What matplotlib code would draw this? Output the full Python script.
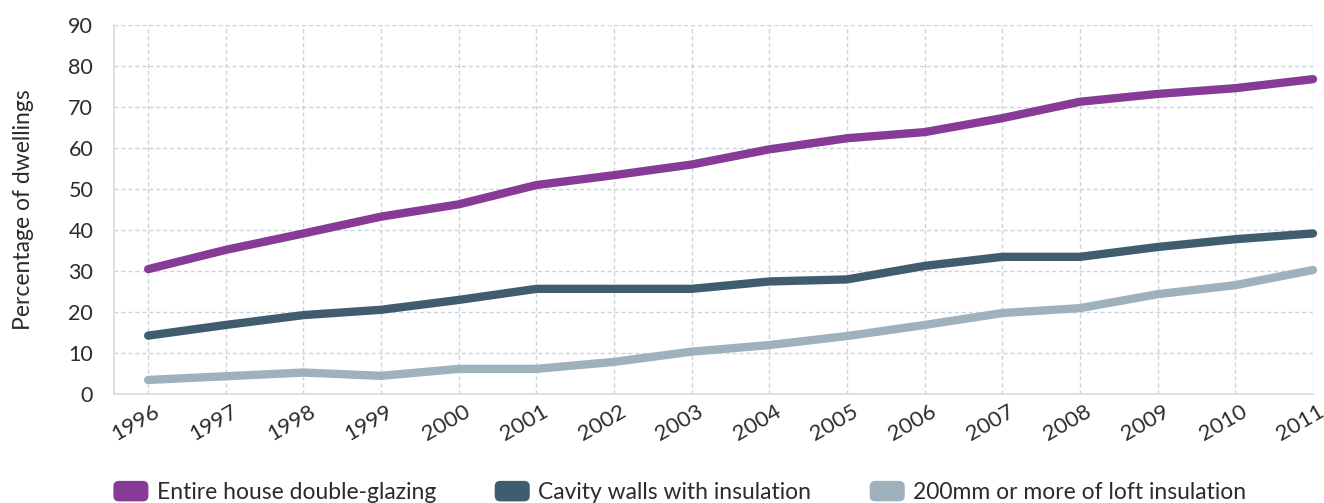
import matplotlib
matplotlib.use("Agg")
import matplotlib.pyplot as plt
from matplotlib.patches import FancyBboxPatch, Patch
from matplotlib.legend_handler import HandlerPatch
import matplotlib.transforms as mtransforms

years = list(range(1996, 2012))
double_glazing = [30.5, 35.2, 39.2, 43.3, 46.3, 51.0, 53.4, 56.0, 59.7, 62.4, 63.9, 67.3, 71.3, 73.2, 74.6, 76.8]
cavity_walls = [14.3, 16.9, 19.3, 20.6, 23.0, 25.7, 25.7, 25.7, 27.5, 28.0, 31.3, 33.5, 33.5, 35.9, 37.8, 39.2]
loft_insulation = [3.5, 4.4, 5.3, 4.5, 6.2, 6.2, 7.9, 10.4, 12.0, 14.2, 16.9, 19.8, 21.0, 24.4, 26.6, 30.3]

series_labels = ["Entire house double-glazing", "Cavity walls with insulation",
                 "200mm or more of loft insulation"]
colors = ["#873b97", "#3f5d6e", "#9fb1bc"]
y_ticks = list(range(0, 91, 10))

plt.rcParams["font.family"] = ["Lato", "DejaVu Sans"]
text_color = "#2b2b2b"
grid_color = "#c9d5dd"

fig = plt.figure(figsize=(13.24, 5.03), dpi=100)
ax = fig.add_axes([0.0861, 0.2161, 0.9056, 0.7342])

for vals, c, lab in zip([double_glazing, cavity_walls, loft_insulation], colors, series_labels):
    ax.plot(years, vals, color=c, lw=6.0, solid_capstyle="round",
            solid_joinstyle="round", clip_on=False, label=lab, zorder=3)

ax.set_xlim(1995.56, 2011)
ax.set_ylim(0, 90)
ax.set_xticks(years)
ax.set_yticks(y_ticks)
ax.grid(True, color=grid_color, linestyle=(0, (3, 2)), linewidth=1.0, zorder=0)
for s in ["top", "right"]:
    ax.spines[s].set_visible(False)
for s in ["left", "bottom"]:
    ax.spines[s].set_color("#d3dde4")
    ax.spines[s].set_linewidth(1.2)
ax.tick_params(axis="both", length=0, labelcolor=text_color)
ax.tick_params(axis="y", pad=15, labelsize=15.5)
ax.tick_params(axis="x", pad=5, labelsize=16)
ax.set_xticklabels([str(y) for y in years], rotation=30, ha="right",
                   rotation_mode="anchor")
offset = mtransforms.ScaledTranslation(0.05, 0, fig.dpi_scale_trans)
for lbl in ax.get_xticklabels():
    lbl.set_transform(lbl.get_transform() + offset)

ax.set_ylabel("Percentage of dwellings", fontsize=16.5, color=text_color)
ax.yaxis.set_label_coords(-0.067, 0.5)


class RoundedHandler(HandlerPatch):
    def create_artists(self, legend, orig_handle, xdescent, ydescent, width,
                       height, fontsize, trans):
        p = FancyBboxPatch((-xdescent + 1, -ydescent), width - 2, height,
                           boxstyle="round,pad=0,rounding_size=4",
                           facecolor=orig_handle.get_facecolor(),
                           edgecolor="none", transform=trans)
        return [p]


handles = [Patch(facecolor=c) for c in colors]
leg = fig.legend(handles, series_labels, loc="center left",
                 bbox_to_anchor=(0.069, 0.022), ncol=3, frameon=False,
                 fontsize=16.5, handlelength=1.65, handleheight=1.0,
                 handletextpad=0.3, columnspacing=2.5,
                 handler_map={Patch: RoundedHandler()})
for t in leg.get_texts():
    t.set_color(text_color)

fig.savefig("out.png", dpi=100)
